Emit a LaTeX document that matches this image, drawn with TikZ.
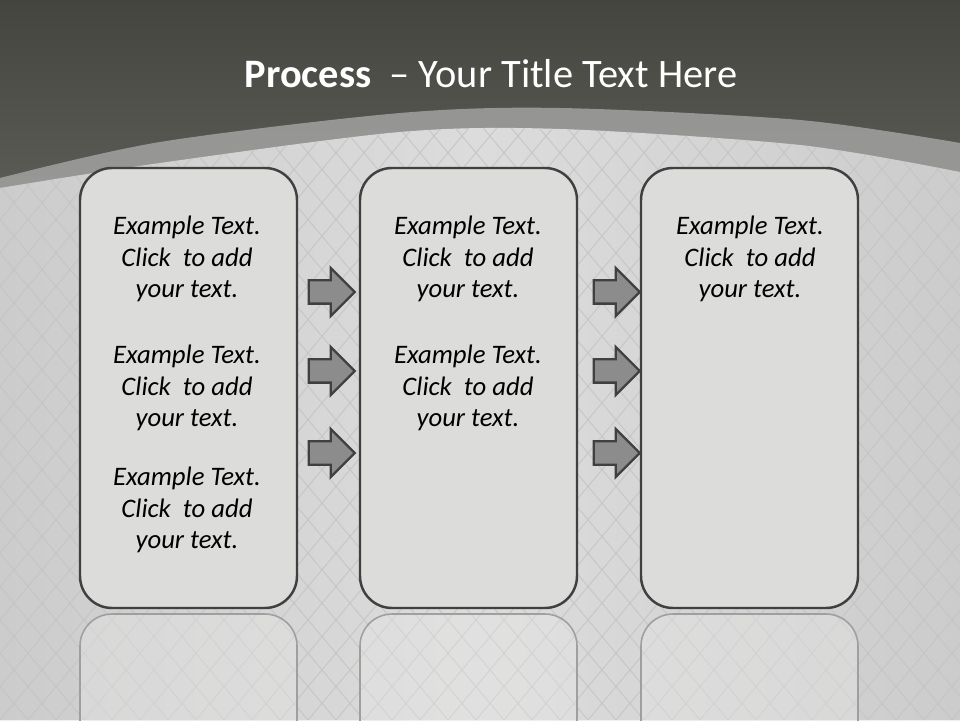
\documentclass[tikz,border=0pt]{standalone}
\usepackage{fontspec}
\setmainfont{Carlito}
\usetikzlibrary{positioning,shapes.arrows}

\definecolor{topdark}{HTML}{44453E}
\definecolor{topmid}{HTML}{5E5F58}
\definecolor{bandgray}{HTML}{A2A3A0}
\definecolor{bgside}{HTML}{CCCCCC}
\definecolor{bgmid}{HTML}{DCDCDC}
\definecolor{latt}{HTML}{C4C4C4}
\definecolor{boxfill}{HTML}{DCDCDA}
\definecolor{edgedark}{HTML}{404040}
\definecolor{arrowgray}{HTML}{8C8C8C}

\tikzset{
    procbox/.style={draw=edgedark,fill=boxfill,line width=1.4pt,rounded corners=0.64cm,
        minimum width=4.34cm,minimum height=8.8cm,inner sep=0pt},
    reflbox/.style={draw=gray!75,fill=boxfill!60!white,fill opacity=0.35,line width=0.9pt,
        rounded corners=0.64cm,minimum width=4.34cm,minimum height=8.8cm,inner sep=0pt},
    boxtext/.style={align=center,text=black,font=\fontsize{15.2}{18.1}\selectfont\itshape},
    procarrow/.style={shape=single arrow,draw=edgedark,fill=arrowgray,line width=1.3pt,
        minimum height=0.92cm,minimum width=0.94cm,inner sep=0.21cm,single arrow head extend=0.25cm},
    lattice/.style={draw=latt,line width=0.6pt,opacity=0.8}
}

\begin{document}
\begin{tikzpicture}
    \useasboundingbox (0,0) rectangle (19.2,14.4);
    %% dark top
    \shade[top color=topdark,bottom color=topmid] (0,10) rectangle (19.2,14.4);
    %% grey band
    \shade[top color=bandgray!92!black,bottom color=bandgray] (0,0) -- plot[smooth] coordinates
        {(0,10.84) (3.2,11.56) (8,12.14) (11.2,12.24) (16,12.0) (19.2,11.54)} -- (19.2,0) -- cycle;
    %% light floor with lattice
    \begin{scope}
        \clip (0,0) -- plot[smooth] coordinates
            {(0,10.64) (3.2,11.14) (8,11.76) (11.2,11.82) (16,11.5) (19.2,10.96)} -- (19.2,0) -- cycle;
        \shade[left color=bgside,right color=bgside,middle color=bgmid] (0,0) rectangle (19.2,12.5);
        \foreach \i in {-30,...,70} {
            \draw[lattice] (\i*0.56-14,0) -- ++(50:20);
            \draw[lattice] (\i*0.56,0) -- ++(130:20);
        }
    \end{scope}

    %% process boxes
    \node[procbox] (box1) at (3.77,6.64) {};
    \node[procbox] (box2) at (9.37,6.64) {};
    \node[procbox] (box3) at (14.99,6.64) {};

    %% reflections
    \begin{scope}
        \clip (0,0) rectangle (19.2,2.16);
        \node[reflbox,below=0.08cm of box1] (refl1) {};
        \node[reflbox,below=0.08cm of box2] (refl2) {};
        \node[reflbox,below=0.08cm of box3] (refl3) {};
    \end{scope}

    %% texts
    \node[boxtext] (t11) at (3.74,9.22) {Example Text.\\Click~ to add\\your text.};
    \node[boxtext] (t12) at (3.74,6.64) {Example Text.\\Click~ to add\\your text.};
    \node[boxtext] (t13) at (3.74,4.20) {Example Text.\\Click~ to add\\your text.};
    \node[boxtext] (t21) at (9.36,9.22) {Example Text.\\Click~ to add\\your text.};
    \node[boxtext] (t22) at (9.36,6.64) {Example Text.\\Click~ to add\\your text.};
    \node[boxtext] (t31) at (15.0,9.22) {Example Text.\\Click~ to add\\your text.};

    %% arrows between boxes
    \foreach \y [count=\k] in {8.56,6.98,5.34} {
        \node[procarrow] (a1\k) at (6.52,\y) {};
        \node[procarrow] (a2\k) at (12.22,\y) {};
    }

    %% title
    \node[text=white,font=\fontsize{23}{27}\selectfont] (title) at (9.82,12.92)
        {\textbf{Process}~ – Your Title Text Here};
\end{tikzpicture}
\end{document}
